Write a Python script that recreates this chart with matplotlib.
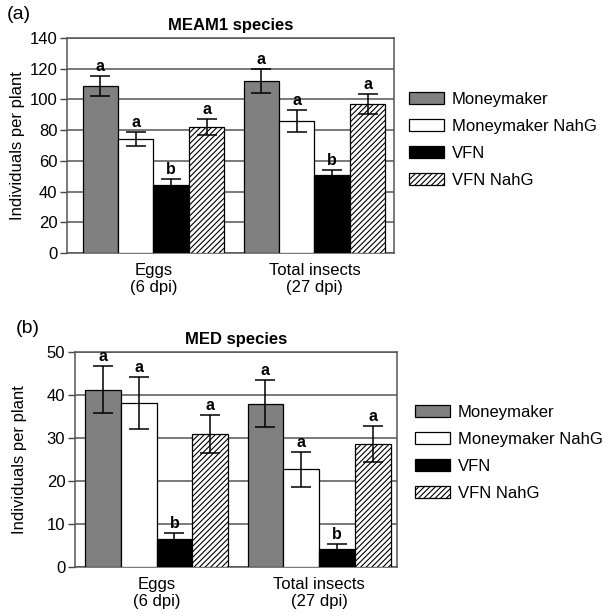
import matplotlib.pyplot as plt
import numpy as np

plt.rcParams["font.family"] = ["Liberation Sans", "DejaVu Sans"]
plt.rcParams["hatch.linewidth"] = 0.8

genotypes = ["Moneymaker", "Moneymaker NahG", "VFN", "VFN NahG"]
categories = ["Eggs\n(6 dpi)", "Total insects\n(27 dpi)"]

# panel (a): MEAM1, rows = genotype, columns = category
meam1_mean = [[109, 112], [74, 86], [44, 51], [82, 97]]
meam1_err = [[6.5, 8], [4.5, 7], [4, 3], [5, 6.5]]
meam1_letters = [["a", "a"], ["a", "a"], ["b", "b"], ["a", "a"]]

# panel (b): MED
med_mean = [[41.2, 38], [38.1, 22.7], [6.6, 4.3], [30.9, 28.6]]
med_err = [[5.5, 5.5], [6, 4], [1.3, 1], [4.4, 4.2]]
med_letters = [["a", "a"], ["a", "a"], ["b", "b"], ["a", "a"]]

colors = ["#808080", "white", "black", "white"]
hatches = [None, None, None, "//////"]

W, H = 608, 616
fig = plt.figure(figsize=(W / 100, H / 100), dpi=100)


def px_axes(left, top, right, bottom):
    return fig.add_axes([left / W, 1 - bottom / H, (right - left) / W, (bottom - top) / H])


def draw_panel(ax, means, errs, letters, ymax, ystep, xlim, title, tag, leg_xy, label_x):
    x = np.arange(len(categories))
    width = 0.22
    for i, g in enumerate(genotypes):
        pos = x + (i - 1.5) * width
        ax.bar(pos, means[i], width, color=colors[i], edgecolor="black", linewidth=0.9,
               hatch=hatches[i], label=g, zorder=3)
        ax.errorbar(pos, means[i], yerr=errs[i], fmt="none", ecolor="black",
                    elinewidth=1.1, capsize=7, capthick=1.1, zorder=4)
        for j in range(len(categories)):
            ax.annotate(letters[i][j], (pos[j], means[i][j] + errs[i][j]),
                        xytext=(0, 1.5), textcoords="offset points",
                        ha="center", va="bottom", fontsize=11.5, fontweight="bold")
    ax.set_ylim(0, ymax)
    ax.set_yticks(np.arange(0, ymax + 1, ystep))
    ax.set_xlim(*xlim)
    ax.set_xticks(x)
    ax.set_xticklabels(categories, fontsize=12)
    ax.tick_params(axis="x", length=0, pad=7)
    ax.tick_params(axis="y", labelsize=12, length=5, width=1, color="#444444", pad=2)
    ax.yaxis.grid(True, color="#555555", linewidth=1.1, zorder=0)
    ax.set_axisbelow(True)
    for s in ax.spines.values():
        s.set_color("#555555")
        s.set_linewidth(1.1)
    ax.set_ylabel("Individuals per plant", fontsize=12)
    ax.yaxis.set_label_coords(label_x, 0.5)
    ax.set_title(title, fontsize=12, fontweight="bold", pad=6)
    ax.text(-0.185, 1.11, tag, transform=ax.transAxes, fontsize=14, ha="left", va="center")
    ax.legend(loc="upper left", bbox_to_anchor=(leg_xy[0] / W, 1 - leg_xy[1] / H),
              bbox_transform=fig.transFigure, frameon=False, fontsize=12,
              handlelength=2.1, handleheight=0.7, handletextpad=0.45,
              labelspacing=0.72, borderaxespad=0, borderpad=0)


ax_a = px_axes(67, 38, 394, 253)
draw_panel(ax_a, meam1_mean, meam1_err, meam1_letters, 140, 20, (-0.537, 1.494),
           "MEAM1 species", "(a)", (409, 92), -0.128)

ax_b = px_axes(75, 352, 397, 567)
draw_panel(ax_b, med_mean, med_err, med_letters, 50, 10, (-0.502, 1.48),
           "MED species", "(b)", (415, 405), -0.15)

fig.savefig("out.png", dpi=100)
